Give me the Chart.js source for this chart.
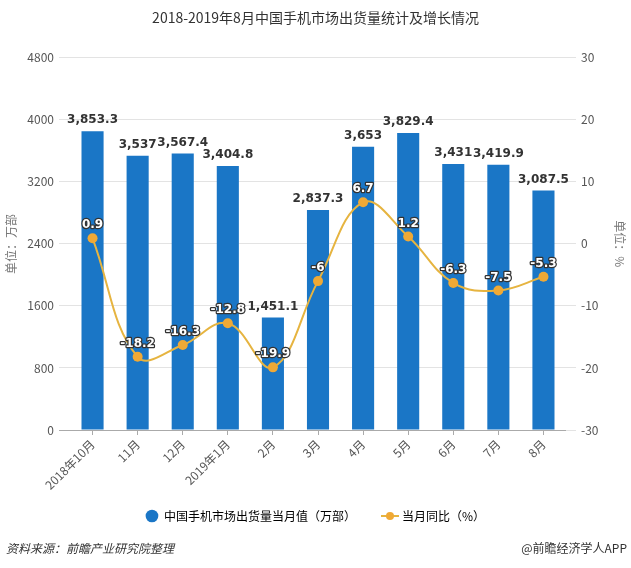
<!DOCTYPE html>
<html>
<head>
<meta charset="utf-8">
<script src="https://cdn.jsdelivr.net/npm/chart.js@4.4.1/dist/chart.umd.min.js"></script>
<style>
  body { margin: 0; background: #fff; }
  #wrap { position: relative; width: 631px; height: 568px; }
  .foot { position: absolute; top: 539px; font: 12px "Noto Sans CJK SC", sans-serif; color: #333; }
  #src { left: 6px; font-style: italic; }
  #app { right: 4px; }
</style>
</head>
<body>
<div id="wrap">
  <canvas id="chart" width="631" height="568"></canvas>
  <div class="foot" id="src">资料来源：前瞻产业研究院整理</div>
  <div class="foot" id="app">@前瞻经济学人APP</div>
</div>
<script>
// 数据
var categories = ['2018年10月', '11月', '12月', '2019年1月', '2月', '3月', '4月', '5月', '6月', '7月', '8月'];
var shipments = [3853.3, 3537, 3567.4, 3404.8, 1451.1, 2837.3, 3653, 3829.4, 3431, 3419.9, 3087.5];
var yoy = [0.9, -18.2, -16.3, -12.8, -19.9, -6, 6.7, 1.2, -6.3, -7.5, -5.3];

var barColor = '#1a76c6';
var lineColor = '#e6b440';
var pointColor = '#f0a935';
var fontCN = '"Noto Sans CJK SC", "Liberation Sans", sans-serif';

// legend icon for the line series
var lineIcon = document.createElement('canvas');
lineIcon.width = 20;
lineIcon.height = 10;
(function () {
    var c = lineIcon.getContext('2d');
    c.strokeStyle = lineColor;
    c.lineWidth = 2;
    c.beginPath();
    c.moveTo(1, 5);
    c.lineTo(19, 5);
    c.stroke();
    c.fillStyle = pointColor;
    c.beginPath();
    c.arc(10, 5, 4, 0, Math.PI * 2);
    c.fill();
})();

// value labels
var valueLabels = {
    id: 'valueLabels',
    afterDatasetsDraw: function (chart) {
        var ctx = chart.ctx;
        ctx.save();
        ctx.textAlign = 'center';
        ctx.textBaseline = 'bottom';
        ctx.font = 'bold 12px "DejaVu Sans", sans-serif';
        chart.getDatasetMeta(0).data.forEach(function (bar, i) {
            ctx.fillStyle = '#333';
            ctx.fillText(shipments[i].toLocaleString('en-US'), bar.x, bar.y - 5);
        });
        chart.getDatasetMeta(1).data.forEach(function (pt, i) {
            ctx.lineWidth = 2.5;
            ctx.lineJoin = 'round';
            ctx.strokeStyle = '#333';
            ctx.strokeText(String(yoy[i]), pt.x, pt.y - 7);
            ctx.fillStyle = '#fff';
            ctx.fillText(String(yoy[i]), pt.x, pt.y - 7);
        });
        ctx.restore();
    }
};

var ctx = document.getElementById('chart').getContext('2d');
var chart = new Chart(ctx, {
    type: 'bar',
    data: {
        labels: categories,
        datasets: [{
            label: '中国手机市场出货量当月值（万部）',
            data: shipments,
            backgroundColor: barColor,
            barPercentage: 0.49,
            categoryPercentage: 1,
            yAxisID: 'y',
            order: 2
        }, {
            type: 'line',
            label: '当月同比（%）',
            data: yoy,
            borderColor: lineColor,
            borderWidth: 2,
            tension: 0.4,
            pointRadius: 5,
            pointBackgroundColor: pointColor,
            pointBorderWidth: 0,
            yAxisID: 'y1',
            order: 1
        }]
    },
    options: {
        responsive: false,
        animation: false,
        layout: { padding: { top: 0, bottom: 36, left: 0, right: 0 } },
        plugins: {
            title: {
                display: true,
                text: '2018-2019年8月中国手机市场出货量统计及增长情况',
                color: '#333',
                font: { family: fontCN, size: 14, weight: 'normal' },
                padding: { top: 9, bottom: 32 }
            },
            legend: {
                position: 'bottom',
                labels: {
                    color: '#333',
                    font: { family: fontCN, size: 12 },
                    usePointStyle: true,
                    boxHeight: 9,
                    padding: 28,
                    generateLabels: function (ch) {
                        return [{
                            text: ch.data.datasets[0].label,
                            fillStyle: barColor,
                            strokeStyle: barColor,
                            lineWidth: 0,
                            pointStyle: 'circle',
                            datasetIndex: 0
                        }, {
                            text: ch.data.datasets[1].label,
                            fillStyle: pointColor,
                            strokeStyle: pointColor,
                            lineWidth: 0,
                            pointStyle: lineIcon,
                            datasetIndex: 1
                        }];
                    }
                }
            },
            tooltip: { enabled: false }
        },
        scales: {
            x: {
                afterFit: function (s) {
                    s.height = 52;
                    // rotated labels run below the scale box, don't clip them
                    s._computeLabelArea = function () { return undefined; };
                },
                border: { display: false },
                grid: {
                    offset: false,
                    drawOnChartArea: false,
                    drawTicks: true,
                    tickLength: 5,
                    color: '#aaa'
                },
                ticks: {
                    color: '#555',
                    font: { family: fontCN, size: 12 },
                    minRotation: 45,
                    maxRotation: 45,
                    padding: 2
                }
            },
            y: {
                position: 'left',
                min: 0,
                max: 4800,
                afterFit: function (s) { s.width = 70; },
                border: { display: false },
                grid: {
                    color: function (c) { return c.tick && c.tick.value === 0 ? '#aaa' : '#e3e3e3'; },
                    drawTicks: true,
                    tickLength: 11
                },
                ticks: {
                    stepSize: 800,
                    color: '#555',
                    padding: 5,
                    font: { family: fontCN, size: 12 },
                    callback: function (v) { return String(v); }
                },
                title: {
                    display: true,
                    text: '单位：万部',
                    color: '#777',
                    font: { family: fontCN, size: 12 },
                    padding: { top: 4, bottom: 0 }
                }
            },
            y1: {
                position: 'right',
                min: -30,
                max: 30,
                afterFit: function (s) { s.width = 65; },
                border: { display: false },
                grid: {
                    drawOnChartArea: false,
                    drawTicks: true,
                    tickLength: 10,
                    color: '#e3e3e3'
                },
                ticks: {
                    stepSize: 10,
                    color: '#555',
                    padding: 5,
                    font: { family: fontCN, size: 12 },
                    callback: function (v) { return String(v); }
                },
                title: {
                    display: true,
                    text: '单位：%',
                    color: '#777',
                    font: { family: fontCN, size: 12 },
                    padding: { top: 4, bottom: 0 }
                }
            }
        }
    },
    plugins: [valueLabels]
});
</script>
</body>
</html>
